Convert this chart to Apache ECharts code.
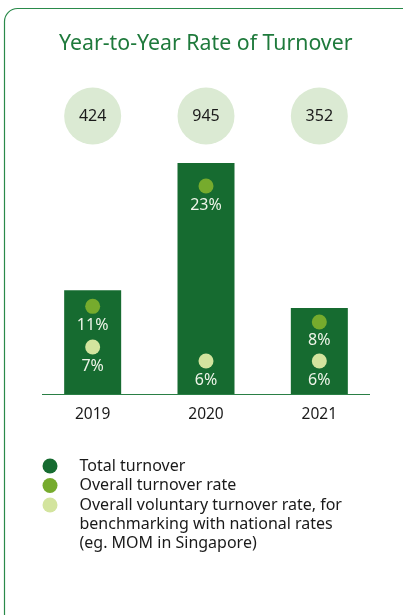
<!DOCTYPE html>
<html>
<head>
<meta charset="utf-8">
<script src="https://cdn.jsdelivr.net/npm/echarts@6/dist/echarts.min.js"></script>
<style>
  html, body { margin: 0; padding: 0; background: #ffffff; }
  #chart { width: 403px; height: 615px; }
</style>
</head>
<body>
<div id="chart"></div>
<script>
// Turnover figures per year
const years = ['2019', '2020', '2021'];
const totalTurnover = [424, 945, 352];
const overallRate = [11, 23, 8];          // %
const voluntaryRate = [7, 6, 6];          // %

const NAME_TOTAL = 'Total turnover';
const NAME_OVERALL = 'Overall turnover rate';
const NAME_VOLUNTARY = 'Overall voluntary turnover rate, for benchmarking with national rates (eg. MOM in Singapore)';

const C_DARK = '#166b30';
const C_MID = '#76ab2d';
const C_LIGHT = '#d3e49e';
const C_BUBBLE = '#dbead3';
const C_FRAME = '#2a8a4a';
const FONT = '"Noto Sans", "Open Sans", sans-serif';

// per-bar spacing of the rate markers inside each column
const topGap = [7, 14, 5];
const bottomGap = [18, 4, 4];

const rich = {
  g: { width: 15, height: 15, borderRadius: 8, backgroundColor: C_MID, lineHeight: 18 },
  l: { width: 15, height: 15, borderRadius: 8, backgroundColor: C_LIGHT, lineHeight: 18 },
  t: { fontSize: 16, color: '#eef4e8', lineHeight: 20, fontFamily: FONT }
};

const chart = echarts.init(document.getElementById('chart'), null, { renderer: 'canvas' });

chart.setOption({
  animation: false,
  textStyle: { fontFamily: FONT },
  title: {
    text: 'Year-to-Year Rate of Turnover',
    left: 59,
    top: 33,
    padding: 0,
    textStyle: { fontSize: 21.3, fontWeight: 'normal', color: '#1f7a3c', fontFamily: FONT }
  },
  graphic: [
    {
      type: 'rect',
      shape: { x: 4.5, y: 8.5, width: 412, height: 620, r: 13 },
      style: { fill: 'none', stroke: C_FRAME, lineWidth: 1.2 },
      silent: true, z: -1
    },
    {
      type: 'line',
      shape: { x1: 42, y1: 394.5, x2: 370, y2: 394.5 },
      style: { stroke: '#2a7f45', lineWidth: 1.2 },
      silent: true, z: 10
    }
  ],
  legend: [
    {
      orient: 'vertical',
      left: 42.5,
      top: 456.5,
      padding: 0,
      itemGap: 0.5,
      itemWidth: 15,
      itemHeight: 15,
      icon: 'circle',
      textStyle: { fontSize: 16, color: '#1a1a1a', lineHeight: 19, padding: [0, 0, 0, 17], fontFamily: FONT },
      data: [
        { name: NAME_TOTAL, itemStyle: { color: C_DARK } },
        { name: NAME_OVERALL, itemStyle: { color: C_MID } }
      ]
    },
    {
      orient: 'vertical',
      left: 42.5,
      top: 457.5,
      padding: 0,
      itemWidth: 15,
      itemHeight: 15,
      icon: 'circle',
      // two leading empty lines keep the first text line level with the marker
      formatter: () => '\n\nOverall voluntary turnover rate, for\nbenchmarking with national rates\n(eg. MOM in Singapore)',
      textStyle: { fontSize: 16, color: '#1a1a1a', lineHeight: 19, padding: [0, 0, 0, 17], fontFamily: FONT },
      data: [
        { name: NAME_VOLUNTARY, itemStyle: { color: C_LIGHT } }
      ]
    }
  ],
  grid: [
    { left: 36, right: 27, top: 149.5, bottom: 221 },
    { left: 36, right: 27, top: 88, height: 56 }
  ],
  xAxis: [
    {
      type: 'category',
      gridIndex: 0,
      data: years,
      axisLine: { show: false },
      axisTick: { show: false },
      axisLabel: { fontSize: 15.5, color: '#1a1a1a', margin: 12.5, fontFamily: FONT }
    },
    {
      type: 'category',
      gridIndex: 1,
      data: years,
      show: false
    }
  ],
  yAxis: [
    { type: 'value', gridIndex: 0, min: 0, max: 1000, show: false, splitLine: { show: false } },
    { type: 'category', gridIndex: 1, data: ['count'], show: false }
  ],
  series: [
    {
      name: NAME_TOTAL,
      type: 'bar',
      xAxisIndex: 0, yAxisIndex: 0,
      barWidth: 57,
      barGap: '-100%',
      itemStyle: { color: C_DARK },
      data: totalTurnover
    },
    {
      name: NAME_OVERALL,
      type: 'bar',
      xAxisIndex: 0, yAxisIndex: 0,
      barWidth: 57,
      barGap: '-100%',
      itemStyle: { color: 'rgba(0,0,0,0)' },
      z: 3,
      data: totalTurnover.map((v, i) => ({
        value: v,
        label: {
          show: true,
          position: 'insideTop',
          distance: topGap[i],
          formatter: '{g|}\n{t|' + overallRate[i] + '%}',
          rich: rich,
          align: 'center'
        }
      }))
    },
    {
      name: NAME_VOLUNTARY,
      type: 'bar',
      xAxisIndex: 0, yAxisIndex: 0,
      barWidth: 57,
      barGap: '-100%',
      itemStyle: { color: 'rgba(0,0,0,0)' },
      z: 3,
      data: totalTurnover.map((v, i) => ({
        value: v,
        label: {
          show: true,
          position: 'insideBottom',
          distance: bottomGap[i],
          formatter: '{l|}\n{t|' + voluntaryRate[i] + '%}',
          rich: rich,
          align: 'center'
        }
      }))
    },
    {
      name: 'Total count',
      type: 'scatter',
      xAxisIndex: 1, yAxisIndex: 1,
      symbol: 'circle',
      symbolSize: 57,
      itemStyle: { color: C_BUBBLE, opacity: 1 },
      label: {
        show: true,
        position: 'inside',
        formatter: p => String(p.value[2]),
        fontSize: 16,
        color: '#1a1a1a',
        fontFamily: FONT
      },
      data: totalTurnover.map((v, i) => [years[i], 'count', v])
    }
  ]
});
</script>
</body>
</html>
